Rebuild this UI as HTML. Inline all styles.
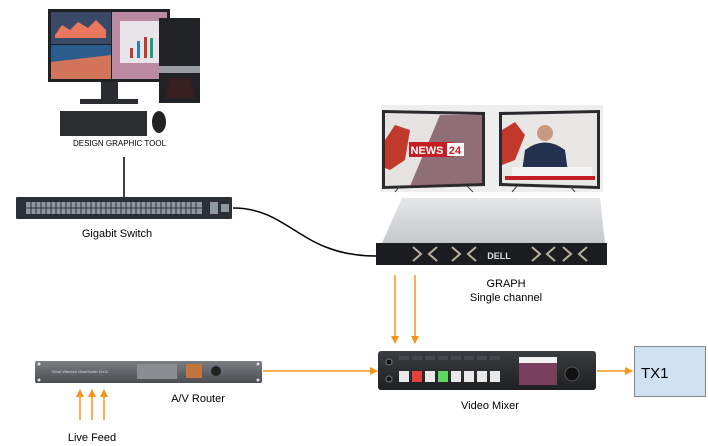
<!DOCTYPE html>
<html><head><meta charset="utf-8"><style>
html,body{margin:0;padding:0;background:#fff;}
svg{display:block;font-family:"Liberation Sans",Arial,sans-serif;}
</style></head><body>
<svg width="708" height="446" viewBox="0 0 708 446" xmlns="http://www.w3.org/2000/svg">
<defs>
<marker id="ah" markerWidth="8" markerHeight="8" refX="7" refY="4" orient="auto" markerUnits="userSpaceOnUse"><path d="M0,0 L8,4 L0,8 z" fill="#f7941d"/></marker>
<linearGradient id="sv" x1="0" y1="0" x2="0" y2="1"><stop offset="0" stop-color="#e4e6e8"/><stop offset="1" stop-color="#c6c9cc"/></linearGradient>
<linearGradient id="mx" x1="0" y1="0" x2="0" y2="1"><stop offset="0" stop-color="#3a3d40"/><stop offset="1" stop-color="#1e2022"/></linearGradient>
<linearGradient id="rt" x1="0" y1="0" x2="0" y2="1"><stop offset="0" stop-color="#7a7e82"/><stop offset="1" stop-color="#4a4e52"/></linearGradient>
</defs>

<!-- Computer -->
<rect x="48" y="9" width="122" height="73" fill="#1f2124"/>
<rect x="51" y="12" width="60" height="32" fill="#3a4a66"/>
<path d="M55,35 L62,25 L70,30 L78,22 L88,28 L96,20 L106,30 L106,38 L55,38z" fill="#e9785f"/>
<rect x="51" y="45" width="60" height="34" fill="#2a5c8c"/>
<path d="M51,62 L111,55 L111,79 L51,79z" fill="#d2745a"/>
<rect x="112" y="12" width="55" height="67" fill="#b98aa0"/>
<rect x="120" y="21" width="40" height="42" fill="#e9e4ea"/>
<rect x="130" y="48" width="3" height="10" fill="#c0392b"/><rect x="137" y="41" width="3" height="17" fill="#2980b9"/><rect x="144" y="37" width="3" height="21" fill="#c0392b"/><rect x="150" y="38" width="3" height="20" fill="#16a085"/>
<rect x="101" y="82" width="17" height="18" fill="#2a2c2f"/>
<rect x="80" y="99" width="58" height="5" fill="#2a2c2f"/>
<rect x="159" y="18" width="41" height="85" fill="#202225"/>
<rect x="159" y="66" width="41" height="7" fill="#9a9ea2"/>
<path d="M170,78 L190,78 L195,98 L165,98z" fill="#3a1f22"/>
<rect x="60" y="111" width="87" height="25" fill="#2b2d30"/>
<ellipse cx="159" cy="122" rx="7" ry="11" fill="#222"/>
<text x="119.5" y="146" font-size="8" text-anchor="middle" fill="#000">DESIGN GRAPHIC TOOL</text>
<line x1="124" y1="157" x2="124" y2="197" stroke="#000" stroke-width="1.5"/>

<!-- Switch -->
<rect x="16" y="197" width="216" height="22" rx="1" fill="#2c3036"/>
<rect x="26" y="202" width="176" height="12" fill="#8f979f"/>
<g stroke="#2c3036" stroke-width="1">
<line x1="26" y1="208" x2="202" y2="208"/>
<path d="M31,202v12M36,202v12M41,202v12M46,202v12M51,202v12M56,202v12M61,202v12M66,202v12M71,202v12M76,202v12M81,202v12M86,202v12M91,202v12M96,202v12M101,202v12M106,202v12M111,202v12M116,202v12M121,202v12M126,202v12M131,202v12M136,202v12M141,202v12M146,202v12M151,202v12M156,202v12M161,202v12M166,202v12M171,202v12M176,202v12M181,202v12M186,202v12M191,202v12M196,202v12"/>
</g>
<rect x="210" y="202" width="8" height="12" fill="#8f979f"/><rect x="221" y="204" width="8" height="8" fill="#8f979f"/>
<text x="117" y="237" font-size="11" text-anchor="middle" fill="#000">Gigabit Switch</text>
<path d="M233,208 C290,208 300,256 376,256" fill="none" stroke="#000" stroke-width="1.5"/>

<!-- TVs -->
<rect x="381" y="105" width="222" height="87" fill="#eeeeee"/>
<path d="M382,110 L485,112 L485,186 L382,189z" fill="#2a2a2e"/>
<path d="M385,113 L482,115 L482,183 L385,186z" fill="#e7e2e2"/>
<path d="M385,140 L395,125 L410,130 L405,160 L390,170 L385,168z" fill="#c0392b"/>
<path d="M440,115 L482,115 L482,183 L410,186z" fill="#6a3d4a" opacity="0.7"/>
<rect x="409" y="142" width="45" height="15" fill="#c41e24"/>
<rect x="447" y="143" width="17" height="13" fill="#fff"/>
<text x="427" y="154" font-size="11" font-weight="bold" fill="#fff" text-anchor="middle">NEWS</text>
<text x="455" y="154" font-size="11" font-weight="bold" fill="#c41e24" text-anchor="middle">24</text>
<path d="M499,112 L600,110 L600,189 L499,186z" fill="#2a2a2e"/>
<path d="M502,115 L597,113 L597,186 L502,183z" fill="#e9e6e6"/>
<path d="M502,130 L515,122 L525,135 L515,160 L502,165z" fill="#c0392b"/>
<path d="M525,150 Q545,135 565,150 L568,172 L522,172z" fill="#23314f"/>
<circle cx="545" cy="133" r="8" fill="#c99a82"/>
<rect x="512" y="167" width="80" height="9" fill="#f4f4f4"/><rect x="505" y="176" width="90" height="4" fill="#c41e24"/>
<line x1="400" y1="186" x2="395" y2="192" stroke="#444"/><line x1="467" y1="186" x2="473" y2="192" stroke="#444"/>
<line x1="517" y1="186" x2="512" y2="192" stroke="#444"/><line x1="570" y1="186" x2="575" y2="192" stroke="#444"/>

<!-- Server -->
<path d="M402,198 L600,198 L605,243 L382,243z" fill="url(#sv)"/>
<rect x="376" y="243" width="231" height="22" fill="#1c1d20"/>
<g fill="none" stroke="#b9b0a0" stroke-width="2">
<path d="M413,247 l8,7 l-8,7 M437,247 l-8,7 l8,7"/>
<path d="M452,247 l8,7 l-8,7 M476,247 l-8,7 l8,7"/>
<path d="M532,247 l8,7 l-8,7 M555,247 l-8,7 l8,7"/>
<path d="M563,247 l8,7 l-8,7 M587,247 l-8,7 l8,7"/>
</g>
<text x="499" y="259" font-size="9" font-weight="bold" fill="#ddd" text-anchor="middle">DELL</text>
<text x="506" y="287" font-size="11" text-anchor="middle" fill="#000">GRAPH</text>
<text x="506" y="301" font-size="11" text-anchor="middle" fill="#000">Single channel</text>
<line x1="395" y1="275" x2="395" y2="343" stroke="#f7941d" stroke-width="1.5" marker-end="url(#ah)"/>
<line x1="415" y1="275" x2="415" y2="343" stroke="#f7941d" stroke-width="1.5" marker-end="url(#ah)"/>

<!-- Router -->
<rect x="35" y="361" width="227" height="22" rx="2" fill="url(#rt)"/>
<circle cx="39" cy="364" r="1.5" fill="#ddd"/><circle cx="39" cy="380" r="1.5" fill="#ddd"/><circle cx="258" cy="364" r="1.5" fill="#ddd"/><circle cx="258" cy="380" r="1.5" fill="#ddd"/>
<rect x="137" y="364" width="40" height="15" fill="#8a8e92"/>
<rect x="186" y="364" width="16" height="14" fill="#c4743e"/>
<circle cx="216" cy="371" r="5" fill="#222"/>
<text x="52" y="373" font-size="3.5" fill="#ddd">Smart Videohub CleanSwitch 12x12</text>
<line x1="263" y1="371" x2="377" y2="371" stroke="#f7941d" stroke-width="1.5" marker-end="url(#ah)"/>
<text x="198" y="402" font-size="11" text-anchor="middle" fill="#000">A/V Router</text>
<line x1="80" y1="420" x2="80" y2="390" stroke="#f7941d" stroke-width="1.5" marker-end="url(#ah)"/>
<line x1="92" y1="420" x2="92" y2="390" stroke="#f7941d" stroke-width="1.5" marker-end="url(#ah)"/>
<line x1="104" y1="420" x2="104" y2="390" stroke="#f7941d" stroke-width="1.5" marker-end="url(#ah)"/>
<text x="92" y="441" font-size="11" text-anchor="middle" fill="#000">Live Feed</text>

<!-- Video Mixer -->
<rect x="378" y="351" width="218" height="39" rx="3" fill="url(#mx)"/>
<circle cx="389" cy="362" r="3" fill="#111" stroke="#777"/><circle cx="389" cy="379" r="3" fill="#111" stroke="#777"/>
<g fill="#44474b"><rect x="399" y="356" width="10" height="4"/><rect x="412" y="356" width="10" height="4"/><rect x="425" y="356" width="10" height="4"/><rect x="438" y="356" width="10" height="4"/><rect x="451" y="356" width="10" height="4"/><rect x="464" y="356" width="10" height="4"/><rect x="477" y="356" width="10" height="4"/><rect x="490" y="356" width="10" height="4"/></g>
<g fill="#e8e8e8"><rect x="399" y="371" width="10" height="11"/><rect x="425" y="371" width="10" height="11"/><rect x="451" y="371" width="10" height="11"/><rect x="464" y="371" width="10" height="11"/><rect x="477" y="371" width="10" height="11"/><rect x="490" y="371" width="10" height="11"/></g>
<rect x="412" y="371" width="10" height="11" fill="#e2423c"/><rect x="438" y="371" width="10" height="11" fill="#5fd85f"/>
<rect x="519" y="357" width="38" height="28" fill="#7a3e5e"/>
<rect x="519" y="357" width="38" height="6" fill="#f2f2f2"/>
<circle cx="572" cy="374" r="7" fill="#111" stroke="#555"/>
<text x="490" y="409" font-size="11" text-anchor="middle" fill="#000">Video Mixer</text>
<line x1="597" y1="371" x2="632" y2="371" stroke="#f7941d" stroke-width="1.5" marker-end="url(#ah)"/>

<!-- TX1 -->
<rect x="634.5" y="346.5" width="71" height="50" fill="#cfe2f3" stroke="#888" stroke-width="1"/>
<text x="641" y="378" font-size="15" fill="#000">TX1</text>
</svg>
</body></html>
